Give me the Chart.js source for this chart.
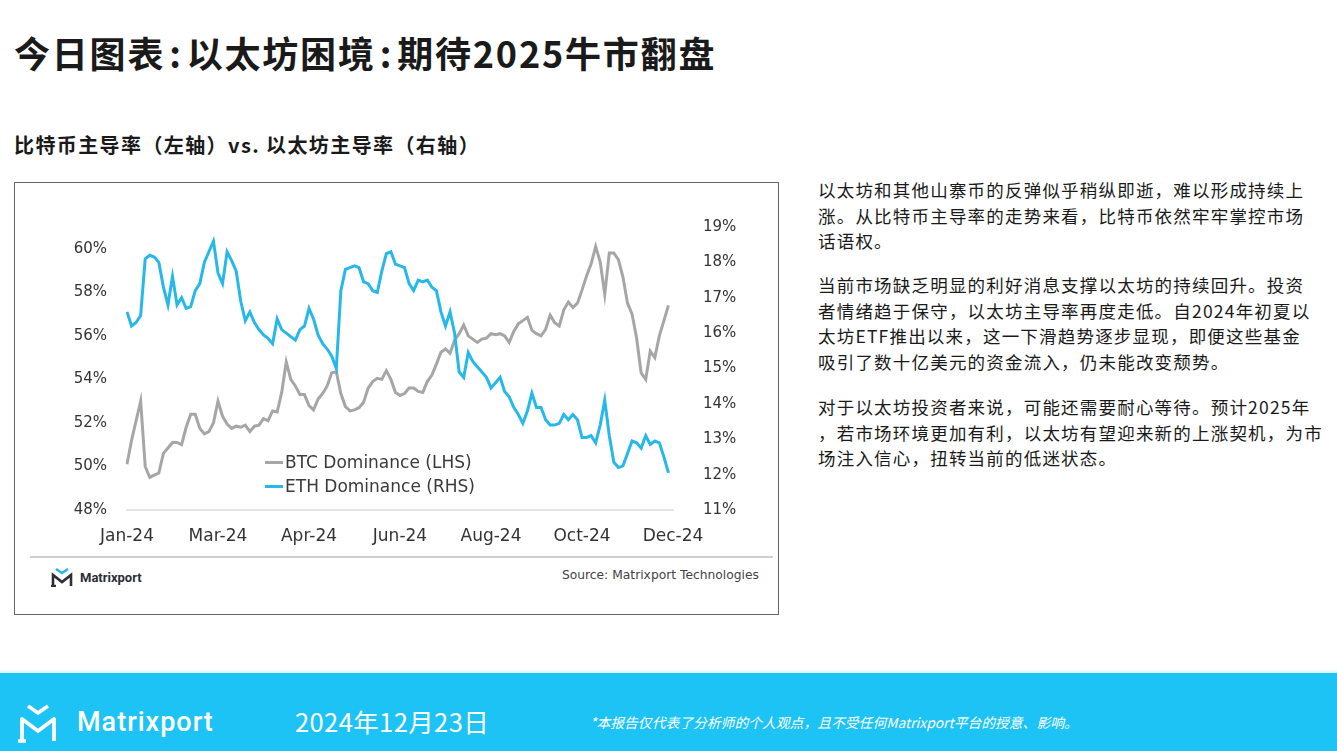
<!DOCTYPE html>
<html>
<head>
<meta charset="utf-8">
<script src="https://cdn.jsdelivr.net/npm/chart.js@4.4.1/dist/chart.umd.min.js"></script>
<style>
  body { margin: 0; width: 1337px; height: 751px; overflow: hidden; background: #fff; position: relative; font-family: "Noto Sans CJK SC", "Noto Sans", sans-serif; color: #1a1a1a; }
  .title { position: absolute; left: 14px; top: 34px; font-size: 36px; line-height: 36px; font-weight: 700; letter-spacing: 1.8px; white-space: nowrap; }
  .title .colon { margin: 0 4px; }
  .subtitle { position: absolute; left: 14px; top: 135px; font-size: 20px; line-height: 20px; font-weight: 700; letter-spacing: 1.4px; white-space: nowrap; }
  .box { position: absolute; left: 14px; top: 182px; width: 763px; height: 431px; border: 1px solid #666; }
  .box canvas { position: absolute; left: 0; top: 0; }
  .sep { position: absolute; left: 15px; top: 373px; width: 743px; height: 2px; background: #cfcfcf; }
  .mini-logo { position: absolute; left: 35px; top: 384px; display: flex; align-items: center; }
  .mini-logo span { font-family: Roboto, sans-serif; font-weight: 700; font-size: 13px; color: #2a2f3a; margin-left: 6px; }
  .source { position: absolute; right: 19px; top: 385px; font-family: "DejaVu Sans", sans-serif; font-size: 12.3px; color: #444; white-space: nowrap; }
  .legend { position: absolute; left: 250px; top: 267px; font-family: "DejaVu Sans", sans-serif; font-size: 17px; color: #3a3a3a; }
  .legend div { height: 24px; line-height: 24px; display: flex; align-items: center; white-space: nowrap; }
  .legend i { display: inline-block; width: 18px; height: 3px; margin-right: 2px; }
  .para { position: absolute; left: 818px; font-size: 17.5px; line-height: 25.5px; letter-spacing: 1.2px; white-space: nowrap; color: #1a1a1a; }
  .footer { position: absolute; left: 0; top: 673px; width: 1337px; height: 78px; background: #1ec3f5; color: #fff; }
  .footer-top { position: absolute; left: 0; top: 669px; width: 1337px; height: 4px; background: linear-gradient(#fff, #d8f3fd); }
  .flogo { position: absolute; left: 16px; top: 30px; }
  .fname { position: absolute; left: 77px; top: 33px; font-family: Roboto, sans-serif; font-weight: 500; font-size: 27px; line-height: 32px; letter-spacing: 1px; }
  .fdate { position: absolute; left: 295px; top: 33px; font-size: 25.5px; line-height: 30px; letter-spacing: 0.4px; white-space: nowrap; }
  .fnote { position: absolute; left: 590px; top: 40px; font-size: 13.8px; line-height: 18px; font-style: italic; white-space: nowrap; }
</style>
</head>
<body>
<div class="title">今日图表<span class="colon">:</span>以太坊困境<span class="colon">:</span>期待2025牛市翻盘</div>
<div class="subtitle">比特币主导率（左轴）vs. 以太坊主导率（右轴）</div>

<div class="box">
  <canvas id="myChart" width="762" height="372"></canvas>
  <div class="legend" id="legend"></div>
  <div class="sep"></div>
  <div class="mini-logo">
    <svg width="24" height="20" viewBox="0 0 24 20">
      <path d="M6 2 L12 6 L18 2" fill="none" stroke="#25b8ea" stroke-width="2.4"/>
      <path d="M3 19 L3 8 L12 15 L21 8 L21 19" fill="none" stroke="#2a2f3a" stroke-width="2.6"/>
      <path d="M1 19 L6 19" stroke="#2a2f3a" stroke-width="2.4"/>
    </svg>
    <span>Matrixport</span>
  </div>
  <div class="source">Source: Matrixport Technologies</div>
</div>

<div class="para" style="top:177px;">以太坊和其他山寨币的反弹似乎稍纵即逝，难以形成持续上<br>涨。从比特币主导率的走势来看，比特币依然牢牢掌控市场<br>话语权。</div>
<div class="para" style="top:272px;">当前市场缺乏明显的利好消息支撑以太坊的持续回升。投资<br>者情绪趋于保守，以太坊主导率再度走低。自2024年初夏以<br>太坊ETF推出以来，这一下滑趋势逐步显现，即便这些基金<br>吸引了数十亿美元的资金流入，仍未能改变颓势。</div>
<div class="para" style="top:394px;">对于以太坊投资者来说，可能还需要耐心等待。预计2025年<br>，若市场环境更加有利，以太坊有望迎来新的上涨契机，为市<br>场注入信心，扭转当前的低迷状态。</div>

<div class="footer-top"></div>
<div class="footer">
  <svg class="flogo" width="44" height="40" viewBox="0 0 44 40">
    <path d="M12 3 L22 10 L32 3" fill="none" stroke="#fff" stroke-width="3.5" stroke-linejoin="round"/>
    <path d="M6 38 L6 16 L22 28 L38 16 L38 38" fill="none" stroke="#fff" stroke-width="3.8" stroke-linejoin="round"/>
    <path d="M2 38 L10 38" stroke="#fff" stroke-width="3.5"/>
  </svg>
  <div class="fname">Matrixport</div>
  <div class="fdate">2024年12月23日</div>
  <div class="fnote">*本报告仅代表了分析师的个人观点，且不受任何Matrixport平台的授意、影响。</div>
</div>

<script>
var seriesNames = ['BTC Dominance (LHS)', 'ETH Dominance (RHS)'];
var tickLabels = ['Jan-24', 'Mar-24', 'Apr-24', 'Jun-24', 'Aug-24', 'Oct-24', 'Dec-24'];
var leftTicks = [48, 50, 52, 54, 56, 58, 60];
var rightTicks = [11, 12, 13, 14, 15, 16, 17, 18, 19];

// 3-day steps from 1 Jan 2024
var btcDominance = [
  50.1, 51.2, 52.1, 53.0, 50.0, 49.5, 49.6, 49.7, 50.6, 50.85,
  51.1, 51.1, 51.0, 51.8, 52.4, 52.4, 51.75, 51.5, 51.6, 52.0,
  53.0, 52.3, 51.95, 51.75, 51.85, 51.8, 51.9, 51.6, 51.85, 51.9,
  52.2, 52.1, 52.55, 52.5, 53.4, 54.8, 54.0, 53.7, 53.3, 53.3,
  52.8, 52.6, 53.1, 53.35, 53.7, 54.3, 54.35, 53.35, 52.75, 52.55,
  52.6, 52.7, 52.95, 53.6, 53.9, 54.05, 54.0, 54.4, 54.0, 53.4,
  53.26, 53.35, 53.6, 53.6, 53.45, 53.4, 53.9, 54.2, 54.7, 55.25,
  55.4, 55.2, 55.8, 56.1, 56.5, 56.0, 55.85, 55.7, 55.85, 55.9,
  56.1, 56.05, 56.1, 56.0, 55.7, 56.2, 56.55, 56.7, 56.85, 56.25,
  56.1, 56.0, 56.3, 56.95, 56.6, 56.45, 57.2, 57.55, 57.3, 57.5,
  58.1, 58.75, 59.3, 60.1, 59.4, 57.9, 59.8, 59.8, 59.5, 58.7,
  57.5, 57.0, 55.9, 54.3, 54.0, 55.3, 55.0, 56.0, 56.7, 57.4
];
var ethDominance = [
  16.6, 16.2, 16.3, 16.5, 18.1, 18.2, 18.15, 18.0, 17.3, 16.8,
  17.6, 16.8, 17.0, 16.7, 16.75, 17.2, 17.4, 18.0, 18.3, 18.6,
  17.7, 17.4, 18.3, 18.05, 17.75, 16.9, 16.35, 16.6, 16.3, 16.1,
  15.95, 15.85, 15.7, 16.4, 16.1, 16.0, 15.9, 15.8, 16.1, 16.2,
  16.7, 16.4, 15.95, 15.7, 15.55, 15.35, 15.0, 17.2, 17.8, 17.85,
  17.9, 17.85, 17.45, 17.4, 17.2, 17.15, 17.75, 18.25, 18.3, 17.95,
  17.9, 17.85, 17.4, 17.2, 17.5, 17.45, 17.5, 17.3, 17.2, 16.6,
  16.2, 16.6, 16.0, 14.9, 14.75, 15.45, 15.2, 15.05, 14.9, 14.75,
  14.45, 14.6, 14.75, 14.35, 14.2, 13.9, 13.7, 13.45, 13.8, 14.3,
  13.9, 13.9, 13.55, 13.4, 13.4, 13.45, 13.7, 13.55, 13.7, 13.55,
  13.05, 13.05, 13.1, 12.9, 13.4, 14.1, 13.1, 12.35, 12.2, 12.25,
  12.6, 12.95, 12.9, 12.75, 13.1, 12.85, 12.95, 12.9, 12.5, 12.05
];
var colors = ['#a6a6a6', '#27b8ea'];

// one category per 3 days, one extra slot so the last tick label fits
var dayLabels = [];
for (var i = 0; i <= btcDominance.length; i++) {
  var d = new Date(2024, 0, 1 + i * 3);
  dayLabels.push(d.toISOString().slice(0, 10));
}

var tickFont = { family: 'DejaVu Sans', size: 15 };

var myChart = new Chart(document.getElementById('myChart'), {
  type: 'line',
  data: {
    labels: dayLabels,
    datasets: [{
      label: seriesNames[0],
      data: btcDominance,
      borderColor: colors[0],
      borderWidth: 3,
      pointRadius: 0,
      yAxisID: 'y',
      order: 1
    }, {
      label: seriesNames[1],
      data: ethDominance,
      borderColor: colors[1],
      borderWidth: 3,
      pointRadius: 0,
      yAxisID: 'y1',
      order: 0
    }]
  },
  options: {
    responsive: false,
    devicePixelRatio: 1,
    animation: false,
    layout: { padding: { top: 44, left: 0, right: 0, bottom: 0 } },
    plugins: {
      legend: { display: false },
      tooltip: { enabled: false }
    },
    scales: {
      x: {
        type: 'category',
        offset: false,
        grid: { display: false },
        border: { display: true, color: '#e4e4e4', width: 2 },
        ticks: {
          autoSkip: false,
          maxRotation: 0,
          padding: 8,
          color: '#333',
          font: { family: 'DejaVu Sans', size: 17 },
          callback: function(value, index) {
            return index % 20 === 0 ? tickLabels[index / 20] : null;
          }
        },
        afterFit: function(scale) { scale.height = 45; }
      },
      y: {
        position: 'left',
        min: 48,
        max: 61,
        grid: { display: false },
        border: { display: false },
        ticks: {
          padding: 12,
          color: '#333',
          font: tickFont,
          callback: function(v) { return v + '%'; }
        },
        afterBuildTicks: function(scale) {
          scale.ticks = leftTicks.map(function(v) { return { value: v }; });
        },
        afterFit: function(scale) { scale.width = 112; }
      },
      y1: {
        position: 'right',
        min: 11,
        max: 19,
        grid: { display: false },
        border: { display: false },
        ticks: {
          padding: 22,
          color: '#333',
          font: tickFont,
          callback: function(v) { return v + '%'; }
        },
        afterBuildTicks: function(scale) {
          scale.ticks = rightTicks.map(function(v) { return { value: v }; });
        },
        afterFit: function(scale) { scale.width = 104; }
      }
    }
  }
});

// legend sits inside the plot, built from the dataset labels
var legendHtml = '';
myChart.data.datasets.forEach(function(ds) {
  legendHtml += '<div><i style="background:' + ds.borderColor + '"></i>' + ds.label + '</div>';
});
document.getElementById('legend').innerHTML = legendHtml;
</script>
</body>
</html>
